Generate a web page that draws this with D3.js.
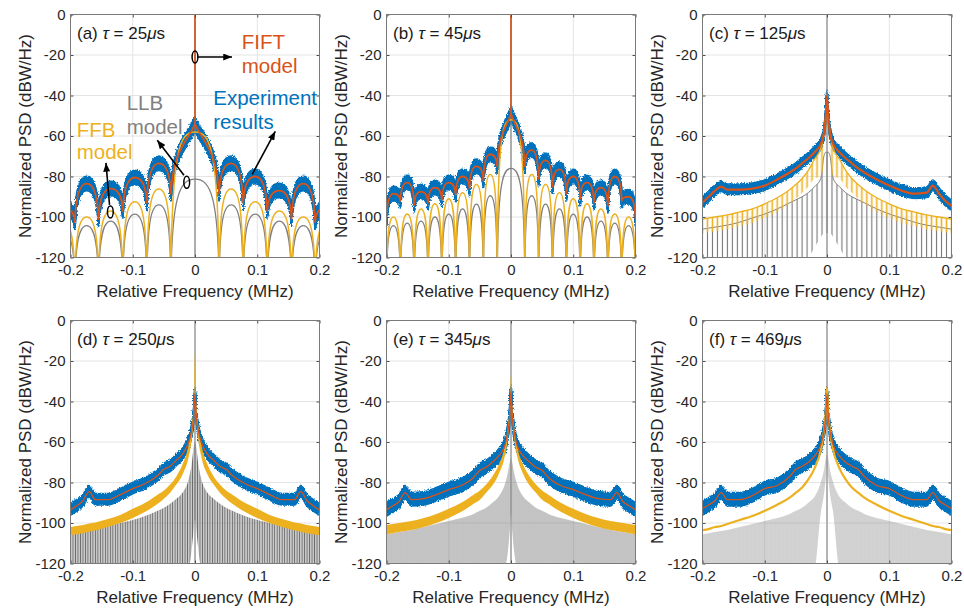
<!DOCTYPE html>
<html>
<head>
<meta charset="utf-8">
<script src="https://cdn.jsdelivr.net/npm/d3@7"></script>
<style>
  body { margin: 0; background: #fff; }
  svg { font-family: "Liberation Sans", Arial, Helvetica, sans-serif; }
</style>
</head>
<body>
<svg id="chart" width="964" height="610"></svg>
<script>
// ---------- data ----------
const panelTags = ["(a)", "(b)", "(c)", "(d)", "(e)", "(f)"];
const tauValues = [25, 45, 125, 250, 345, 469];           // us
const lobeSpacing = [0.0387, 0.0222, 0.008, 0.004, 0.0029, 0.00213]; // MHz
const blueSpread = [3.5, 3.5, 2.7, 2.9, 3.4, 3.4];        // dB, half width of measured band
const xTicks = [-0.2, -0.1, 0, 0.1, 0.2];
const yTicks = [0, -20, -40, -60, -80, -100, -120];

// (a) tau = 25 us : null positions and lobe levels
const nullsA = [-0.232, -0.193, -0.155, -0.116, -0.0774, -0.0387, 0.0387, 0.0774, 0.116, 0.155, 0.193, 0.232];
const grayPeaksA = [-106, -104.3, -102, -98.6, -94, -81.3, -94, -98.6, -102, -104.3, -106];
const yellowPeaksA = [-102, -100, -97, -92.5, -86.2, -58, -86.2, -92.5, -97, -100, -102];
const redPeaksA = [-95, -83.5, -86, -80.5, -73.5, -54, -73.5, -80, -87, -83.5, -95];
const redDipsA = [-104, -102.5, -101, -97, -93, -88.5, -88.5, -93, -97, -101, -102.5, -104];

// (b) tau = 45 us
const nullsB = [-0.2222, -0.2, -0.1778, -0.1556, -0.1333, -0.1111, -0.0889, -0.0667, -0.0444, -0.0222,
                0.0222, 0.0444, 0.0667, 0.0889, 0.1111, 0.1333, 0.1556, 0.1778, 0.2, 0.2222];
const grayPeaksB = [-105, -104.3, -103, -102, -100, -98.6, -96, -93.6, -89.5, -76,
                    -89.5, -93.6, -96, -98.6, -100, -102, -103, -104.3, -105];
const yellowPeaksB = [-101, -100, -98.5, -96, -93.5, -91, -88, -84, -79, -52,
                      -79, -84, -88, -91, -93.5, -96, -98.5, -100, -101];
const redPeaksB = [-96, -88.5, -83, -87.5, -85.5, -83, -80, -75, -69, -49,
                   -67, -72, -76.5, -80, -83, -85.5, -80, -90, -97];
const redDipsB = [-104, -101, -92, -94, -93, -91.5, -89, -86, -82, -75,
                  -75, -81, -85, -88.5, -91, -93, -94.5, -92, -101, -104];

// (c)-(f): envelopes sampled on a common frequency grid (MHz)
const fGrid = [-0.2, -0.19, -0.18, -0.17, -0.16, -0.14, -0.12, -0.1, -0.08, -0.06, -0.05, -0.04, -0.03, -0.02, -0.01, -0.005, -0.002, 0,
               0.002, 0.005, 0.01, 0.02, 0.03, 0.04, 0.05, 0.06, 0.08, 0.1, 0.12, 0.14, 0.16, 0.17, 0.18, 0.19, 0.2];

const grayTopC = [-106, -105.5, -105, -104.5, -104, -102.5, -100.5, -98.5, -96, -93, -91.5, -90, -88, -85, -81, -70, -68, -68,
                  -68, -70, -81, -85, -88, -90, -91.5, -93, -96, -98.5, -100.5, -102.5, -104, -104.5, -105, -105.5, -106];
const grayBotC = [-122, -122, -122, -122, -122, -122, -122, -122, -122, -122, -122, -122, -120, -115, -110, -108, -108, -108,
                  -108, -108, -110, -115, -120, -122, -122, -122, -122, -122, -122, -122, -122, -122, -122, -122, -122];
const yellowTopC = [-101, -100.5, -100, -99.5, -99, -97.5, -96, -93.5, -90.5, -86.5, -84, -81, -77, -71.5, -66, -58, -50, -44,
                    -50, -58, -66, -71.5, -77, -81, -84, -86.5, -90.5, -93.5, -96, -97.5, -99, -99.5, -100, -100.5, -101];
const yellowBotC = [-108, -107.5, -107, -106.5, -106, -104.5, -103, -100.5, -97.5, -93.5, -91, -88, -85, -81, -80, -74, -62, -50,
                    -62, -74, -80, -81, -85, -88, -91, -93.5, -97.5, -100.5, -103, -104.5, -106, -106.5, -107, -107.5, -108];
const redC = [-93, -90, -87, -85, -86.5, -86.5, -86, -84.5, -81.5, -78, -76, -73.5, -71, -68, -64, -59, -50, -40,
              -50, -59, -64, -68, -71, -73.5, -76, -78, -81.5, -84.5, -87, -88.5, -88, -84.5, -88.5, -92, -94.5];

const grayTopD = [-105, -104.5, -104, -103.5, -103, -101.5, -100, -98.5, -96.5, -94, -92.5, -90.5, -88, -85, -78, -70, -62, -60,
                  -62, -70, -78, -85, -88, -90.5, -92.5, -94, -96.5, -98.5, -100, -101.5, -103, -103.5, -104, -104.5, -105];
const grayBotD = [-122, -122, -122, -122, -122, -122, -122, -122, -122, -122, -122, -122, -122, -122, -122, -112, -103, -98,
                  -103, -112, -122, -122, -122, -122, -122, -122, -122, -122, -122, -122, -122, -122, -122, -122, -122];
const yellowTopD = [-102, -101.5, -101, -100.3, -99.7, -98, -96, -93, -90, -86, -84, -81, -77, -71, -61, -51, -40, -16,
                    -40, -51, -61, -71, -77, -81, -84, -86, -90, -93, -96, -98, -99.7, -100.3, -101, -101.5, -102];
const yellowBotD = [-106, -105.5, -105, -104.3, -103.7, -102, -100, -97.5, -94.5, -90.5, -88, -85, -81, -76, -67, -58, -48, -30,
                    -48, -58, -67, -76, -81, -85, -88, -90.5, -94.5, -97.5, -100, -102, -103.7, -104.3, -105, -105.5, -106];
const redD = [-93.5, -91.5, -89, -84.5, -88.5, -88.5, -86, -83, -80.5, -76.5, -73.5, -72, -69, -66, -60, -54, -47, -36,
              -47, -54, -60, -66, -69, -72, -73.5, -76.5, -80.5, -83, -86, -88.5, -88.5, -84.5, -89, -91.5, -93.5];

const grayTopE = [-105.5, -105, -104.5, -104, -103.5, -102, -100.5, -99, -97.5, -95.5, -94, -92.5, -90, -87, -81, -75, -70, -68,
                  -70, -75, -81, -87, -90, -92.5, -94, -95.5, -97.5, -99, -100.5, -102, -103.5, -104, -104.5, -105, -105.5];
const grayBotE = [-122, -122, -122, -122, -122, -122, -122, -122, -122, -122, -122, -122, -122, -122, -122, -114, -104, -95,
                  -104, -114, -122, -122, -122, -122, -122, -122, -122, -122, -122, -122, -122, -122, -122, -122, -122];
const yellowTopE = [-101, -100.5, -100, -99.5, -99, -97.5, -95.5, -93, -90, -86, -84, -81, -77, -71.5, -62, -52, -42, -27,
                    -42, -52, -62, -71.5, -77, -81, -84, -86, -90, -93, -95.5, -97.5, -99, -99.5, -100, -100.5, -101];
const yellowBotE = [-105.5, -105, -104.5, -104, -103.5, -102, -100, -97.5, -94.5, -90.5, -88.5, -85, -81.5, -76, -67, -58, -48, -32,
                    -48, -58, -67, -76, -81.5, -85, -88.5, -90.5, -94.5, -97.5, -100, -102, -103.5, -104, -104.5, -105, -105.5];
const redE = [-93.5, -91.5, -89.5, -85, -88.5, -88, -86, -83.5, -81.5, -77.5, -74, -72.5, -70, -67, -62, -55, -47, -35,
              -47, -55, -62, -67, -70, -72.5, -74, -77.5, -81.5, -83.5, -86, -88, -88.5, -85, -89.5, -91.5, -93.5];

const grayTopF = [-105.5, -105, -104.5, -104, -103.5, -102, -100.5, -99, -97.5, -95.5, -94, -92.5, -90, -87, -80, -74, -68, -66,
                  -68, -74, -80, -87, -90, -92.5, -94, -95.5, -97.5, -99, -100.5, -102, -103.5, -104, -104.5, -105, -105.5];
const grayBotF = [-122, -122, -122, -122, -122, -122, -122, -122, -122, -122, -122, -122, -122, -122, -95, -86, -78, -72,
                  -78, -86, -95, -122, -122, -122, -122, -122, -122, -122, -122, -122, -122, -122, -122, -122, -122];
const yellowF = [-103.5, -103, -102, -101.5, -100.5, -98.5, -96.5, -94, -91, -87.5, -85, -82.5, -78.5, -73, -64, -55, -45, -33,
                 -45, -55, -64, -73, -78.5, -82.5, -85, -87.5, -91, -94, -96.5, -98.5, -100.5, -101.5, -102, -103, -103.5];
const redF = [-93, -91, -89, -85, -88.5, -88.5, -86.5, -83, -81.5, -77, -73.5, -72, -70, -67, -61.5, -55, -47, -36,
              -47, -55, -61.5, -67, -70, -72, -73.5, -77, -81.5, -83, -86.5, -88.5, -88.5, -85, -89, -91, -93];

// ---------- layout / style ----------
const colLeft = [70.5, 386.5, 702.5];
const rowTop = [14.5, 320.5];
const plotW = 249, plotH = 243;
const cBlue = "#0072BD", cRed = "#D95319", cYellow = "#EDB120", cGray = "#808080";
const stripeColor = [null, null, "#767676", "#6a6a6a", "#7a7a7a", "#858585"];
const stripeWidth = [null, null, 1.1, 1.45, 0.85, 0.6];

const denseGrayTop = [null, null, grayTopC, grayTopD, grayTopE, grayTopF];
const denseGrayBot = [null, null, grayBotC, grayBotD, grayBotE, grayBotF];
const denseYellowTop = [null, null, yellowTopC, yellowTopD, yellowTopE, yellowF];
const denseYellowBot = [null, null, yellowBotC, yellowBotD, yellowBotE, null];
const denseRed = [null, null, redC, redD, redE, redF];

const svg = d3.select("#chart");
const defs = svg.append("defs");

// ragged edge for the measured band
const rough = defs.append("filter").attr("id", "rough")
  .attr("x", "-3%").attr("y", "-5%").attr("width", "106%").attr("height", "110%");
rough.append("feTurbulence").attr("type", "fractalNoise").attr("baseFrequency", "1.4 0.7")
  .attr("numOctaves", 1).attr("seed", 4).attr("result", "noise");
rough.append("feDisplacementMap").attr("in", "SourceGraphic").attr("in2", "noise")
  .attr("scale", 4).attr("xChannelSelector", "R").attr("yChannelSelector", "G");

defs.append("marker").attr("id", "arrow")
  .attr("viewBox", "0 0 10 8").attr("refX", 10).attr("refY", 4)
  .attr("markerWidth", 9).attr("markerHeight", 7)
  .attr("markerUnits", "userSpaceOnUse").attr("orient", "auto")
  .append("path").attr("d", "M0,0L10,4L0,8Z").attr("fill", "#000");

// lobes that fall to -inf at the nulls (sinc-like arches)
function archPath(x, y, nulls, peaks) {
  const p = d3.path();
  peaks.forEach((pk, i) => {
    const n0 = nulls[i], n1 = nulls[i + 1], w = n1 - n0, m = (n0 + n1) / 2;
    p.moveTo(x(n0), y(-135));
    p.bezierCurveTo(x(n0 + 0.01 * w), y(pk - 9), x(n0 + 0.17 * w), y(pk), x(m), y(pk));
    p.bezierCurveTo(x(n1 - 0.17 * w), y(pk), x(n1 - 0.01 * w), y(pk - 9), x(n1), y(-135));
  });
  return p.toString();
}

// lobes joined at finite dips, pointed main lobe
function cuspPath(x, y, nulls, peaks, dips) {
  const p = d3.path();
  p.moveTo(x(nulls[0]), y(dips[0]));
  peaks.forEach((pk, i) => {
    const n0 = nulls[i], n1 = nulls[i + 1], d0 = dips[i], d1 = dips[i + 1];
    const w = n1 - n0, m = (n0 + n1) / 2;
    if (n0 < 0 && n1 > 0) {
      p.bezierCurveTo(x(n0 + 0.05 * w), y(d0 + 0.65 * (pk - d0)), x(m - 0.15 * w), y(d0 + 0.75 * (pk - d0)), x(m), y(pk));
      p.bezierCurveTo(x(m + 0.15 * w), y(d1 + 0.75 * (pk - d1)), x(n1 - 0.05 * w), y(d1 + 0.65 * (pk - d1)), x(n1), y(d1));
    } else {
      p.bezierCurveTo(x(n0 + 0.04 * w), y(d0 + 0.7 * (pk - d0)), x(n0 + 0.22 * w), y(pk), x(m), y(pk));
      p.bezierCurveTo(x(n1 - 0.22 * w), y(pk), x(n1 - 0.04 * w), y(d1 + 0.7 * (pk - d1)), x(n1), y(d1));
    }
  });
  return p.toString();
}

function blueBand(g, d, halfPx) {
  const band = g.append("g").attr("filter", "url(#rough)");
  d3.range(-halfPx, halfPx + 0.01, 1).forEach(off => {
    band.append("path").attr("d", d).attr("transform", `translate(0,${off})`)
      .attr("fill", "none").attr("stroke", cBlue).attr("stroke-width", 2)
      .attr("stroke-linejoin", "round");
  });
}

panelTags.forEach((tag, k) => {
  const left = colLeft[k % 3], top = rowTop[Math.floor(k / 3)];
  const x = d3.scaleLinear().domain([-0.2, 0.2]).range([0, plotW]);
  const y = d3.scaleLinear().domain([-120, 0]).range([plotH, 0]);
  const pxPerDb = plotH / 120;
  const g = svg.append("g").attr("transform", `translate(${left},${top})`);

  defs.append("clipPath").attr("id", "clip" + k)
    .append("rect").attr("width", plotW).attr("height", plotH);

  // grid
  const grid = g.append("g").attr("stroke", "#e4e4e4").attr("stroke-width", 1);
  grid.selectAll(".gx").data(xTicks).enter().append("line")
    .attr("x1", d => x(d)).attr("x2", d => x(d)).attr("y1", 0).attr("y2", plotH);
  grid.selectAll(".gy").data(yTicks).enter().append("line")
    .attr("x1", 0).attr("x2", plotW).attr("y1", d => y(d)).attr("y2", d => y(d));

  const plot = g.append("g").attr("clip-path", `url(#clip${k})`);
  const halfPx = blueSpread[k] * pxPerDb;

  if (k < 2) {
    const nulls = k === 0 ? nullsA : nullsB;
    const grayP = k === 0 ? grayPeaksA : grayPeaksB;
    const yellowP = k === 0 ? yellowPeaksA : yellowPeaksB;
    const redP = k === 0 ? redPeaksA : redPeaksB;
    const redDp = k === 0 ? redDipsA : redDipsB;
    const redPath = cuspPath(x, y, nulls, redP, redDp);
    blueBand(plot, redPath, halfPx);
    plot.append("path").attr("d", archPath(x, y, nulls, grayP))
      .attr("fill", "none").attr("stroke", cGray).attr("stroke-width", 1.3);
    plot.append("line").attr("x1", x(0)).attr("x2", x(0)).attr("y1", y(-120)).attr("y2", y(0))
      .attr("stroke", cGray).attr("stroke-width", 1.2);
    plot.append("path").attr("d", archPath(x, y, nulls, yellowP))
      .attr("fill", "none").attr("stroke", cYellow).attr("stroke-width", 1.5);
    plot.append("path").attr("d", redPath)
      .attr("fill", "none").attr("stroke", cRed).attr("stroke-width", 1.8).attr("stroke-linejoin", "round");
    const redTop = d3.max(redP);
    plot.append("line").attr("x1", x(0)).attr("x2", x(0)).attr("y1", y(redTop)).attr("y2", y(0))
      .attr("stroke", cRed).attr("stroke-width", 1.6);
  } else {
    const period = lobeSpacing[k] * (plotW / 0.4);
    const pat = defs.append("pattern").attr("id", "gp" + k)
      .attr("patternUnits", "userSpaceOnUse")
      .attr("x", x(0) - period / 2).attr("y", 0)
      .attr("width", period).attr("height", plotH + 10);
    pat.append("line").attr("x1", period / 2).attr("x2", period / 2)
      .attr("y1", 0).attr("y2", plotH + 10)
      .attr("stroke", stripeColor[k]).attr("stroke-width", stripeWidth[k]);

    const lineOf = d3.line().x((d, i) => x(fGrid[i])).y(d => y(d)).curve(d3.curveMonotoneX);
    const areaOf = (topArr, botArr) => d3.area()
      .x((d, i) => x(fGrid[i])).y1(d => y(d)).y0((d, i) => y(botArr[i]))
      .curve(d3.curveMonotoneX)(topArr);

    const redPath = lineOf(denseRed[k]);
    blueBand(plot, redPath, halfPx);

    plot.append("path").attr("d", areaOf(denseGrayTop[k], denseGrayBot[k]))
      .attr("fill", `url(#gp${k})`);
    if (k === 2) {
      plot.append("path").attr("d", lineOf(denseGrayTop[k]))
        .attr("fill", "none").attr("stroke", cGray).attr("stroke-width", 1);
    }
    plot.append("line").attr("x1", x(0)).attr("x2", x(0)).attr("y1", y(-120)).attr("y2", y(0))
      .attr("stroke", "#8a8a8a").attr("stroke-width", 1.2);

    if (k === 2) {
      const ypat = defs.append("pattern").attr("id", "yp" + k)
        .attr("patternUnits", "userSpaceOnUse")
        .attr("x", x(0) - period / 2).attr("y", 0)
        .attr("width", period).attr("height", plotH + 10);
      ypat.append("line").attr("x1", period / 2).attr("x2", period / 2)
        .attr("y1", 0).attr("y2", plotH + 10)
        .attr("stroke", cYellow).attr("stroke-width", 1.6);
      plot.append("path").attr("d", areaOf(denseYellowTop[k], denseYellowBot[k]))
        .attr("fill", `url(#yp${k})`);
      plot.append("path").attr("d", lineOf(denseYellowTop[k]))
        .attr("fill", "none").attr("stroke", cYellow).attr("stroke-width", 1.3);
    } else if (denseYellowBot[k]) {
      plot.append("path").attr("d", areaOf(denseYellowTop[k], denseYellowBot[k]))
        .attr("fill", cYellow);
    } else {
      plot.append("path").attr("d", lineOf(denseYellowTop[k]))
        .attr("fill", "none").attr("stroke", cYellow).attr("stroke-width", 2.2);
    }
    plot.append("path").attr("d", redPath)
      .attr("fill", "none").attr("stroke", cRed).attr("stroke-width", k === 2 ? 2.2 : 1.3);
  }

  // axes
  const fmt = d => String(d);
  const styleAxis = sel => {
    sel.attr("font-family", null).attr("font-size", null);
    sel.select(".domain").remove();
    sel.selectAll(".tick line").attr("stroke", "#4d4d4d");
    sel.selectAll(".tick text").attr("fill", "#262626").style("font-size", "15px");
  };
  g.append("g").attr("transform", `translate(0,${plotH})`)
    .call(d3.axisBottom(x).tickValues(xTicks).tickFormat(fmt).tickSizeInner(-3).tickSizeOuter(0).tickPadding(7))
    .call(styleAxis);
  g.append("g")
    .call(d3.axisLeft(y).tickValues(yTicks).tickFormat(fmt).tickSizeInner(-3).tickSizeOuter(0).tickPadding(5))
    .call(styleAxis);
  g.append("g")
    .call(d3.axisTop(x).tickValues(xTicks).tickFormat("").tickSizeInner(-3).tickSizeOuter(0))
    .call(styleAxis);
  g.append("g").attr("transform", `translate(${plotW},0)`)
    .call(d3.axisRight(y).tickValues(yTicks).tickFormat("").tickSizeInner(-3).tickSizeOuter(0))
    .call(styleAxis);

  g.append("rect").attr("width", plotW).attr("height", plotH)
    .attr("fill", "none").attr("stroke", "#7a7a7a").attr("stroke-width", 1);

  g.append("text").attr("x", plotW / 2).attr("y", plotH + 39)
    .attr("text-anchor", "middle").attr("font-size", 17).attr("fill", "#262626")
    .text("Relative Frequency (MHz)");
  g.append("text").attr("transform", `translate(-40,${plotH / 2}) rotate(-90)`)
    .attr("text-anchor", "middle").attr("font-size", 17).attr("fill", "#262626")
    .text("Normalized PSD (dBW/Hz)");

  const title = g.append("text").attr("x", 6.5).attr("y", 24).attr("font-size", 17).attr("fill", "#1a1a1a");
  title.append("tspan").text(tag + " ");
  title.append("tspan").attr("font-style", "italic").text("τ");
  title.append("tspan").text(" = " + tauValues[k]);
  title.append("tspan").attr("font-style", "italic").text("μ");
  title.append("tspan").text("s");

  if (k === 0) {
    const notes = [
      { t: "FIFT", f: 0.075, v: -16.8, c: cRed },
      { t: "model", f: 0.075, v: -29.1, c: cRed },
      { t: "LLB", f: -0.1097, v: -47.4, c: cGray },
      { t: "model", f: -0.1097, v: -58.8, c: cGray },
      { t: "Experiment", f: 0.0294, v: -44.6, c: cBlue },
      { t: "results", f: 0.0294, v: -56.6, c: cBlue },
      { t: "FFB", f: -0.19, v: -60.5, c: cYellow },
      { t: "model", f: -0.19, v: -71.6, c: cYellow }
    ];
    g.selectAll(".note").data(notes).enter().append("text")
      .attr("x", d => x(d.f)).attr("y", d => y(d.v))
      .attr("font-size", 20.5).attr("fill", d => d.c).text(d => d.t);

    const rings = [[0, -21], [-0.0133, -82.9], [-0.136, -97.5]];
    g.selectAll(".ring").data(rings).enter().append("ellipse")
      .attr("cx", d => x(d[0])).attr("cy", d => y(d[1]))
      .attr("rx", 2.9).attr("ry", 6).attr("fill", "none")
      .attr("stroke", "#000").attr("stroke-width", 1.5);

    const arrows = [
      [0.004, -21, 0.0594, -21],
      [-0.0177, -79.4, -0.0606, -62.1],
      [-0.1373, -94, -0.143, -73.3],
      [0.092, -78.9, 0.129, -57.7]
    ];
    g.selectAll(".arr").data(arrows).enter().append("line")
      .attr("x1", d => x(d[0])).attr("y1", d => y(d[1]))
      .attr("x2", d => x(d[2])).attr("y2", d => y(d[3]))
      .attr("stroke", "#000").attr("stroke-width", 1.6)
      .attr("marker-end", "url(#arrow)");
  }
});
</script>
</body>
</html>
